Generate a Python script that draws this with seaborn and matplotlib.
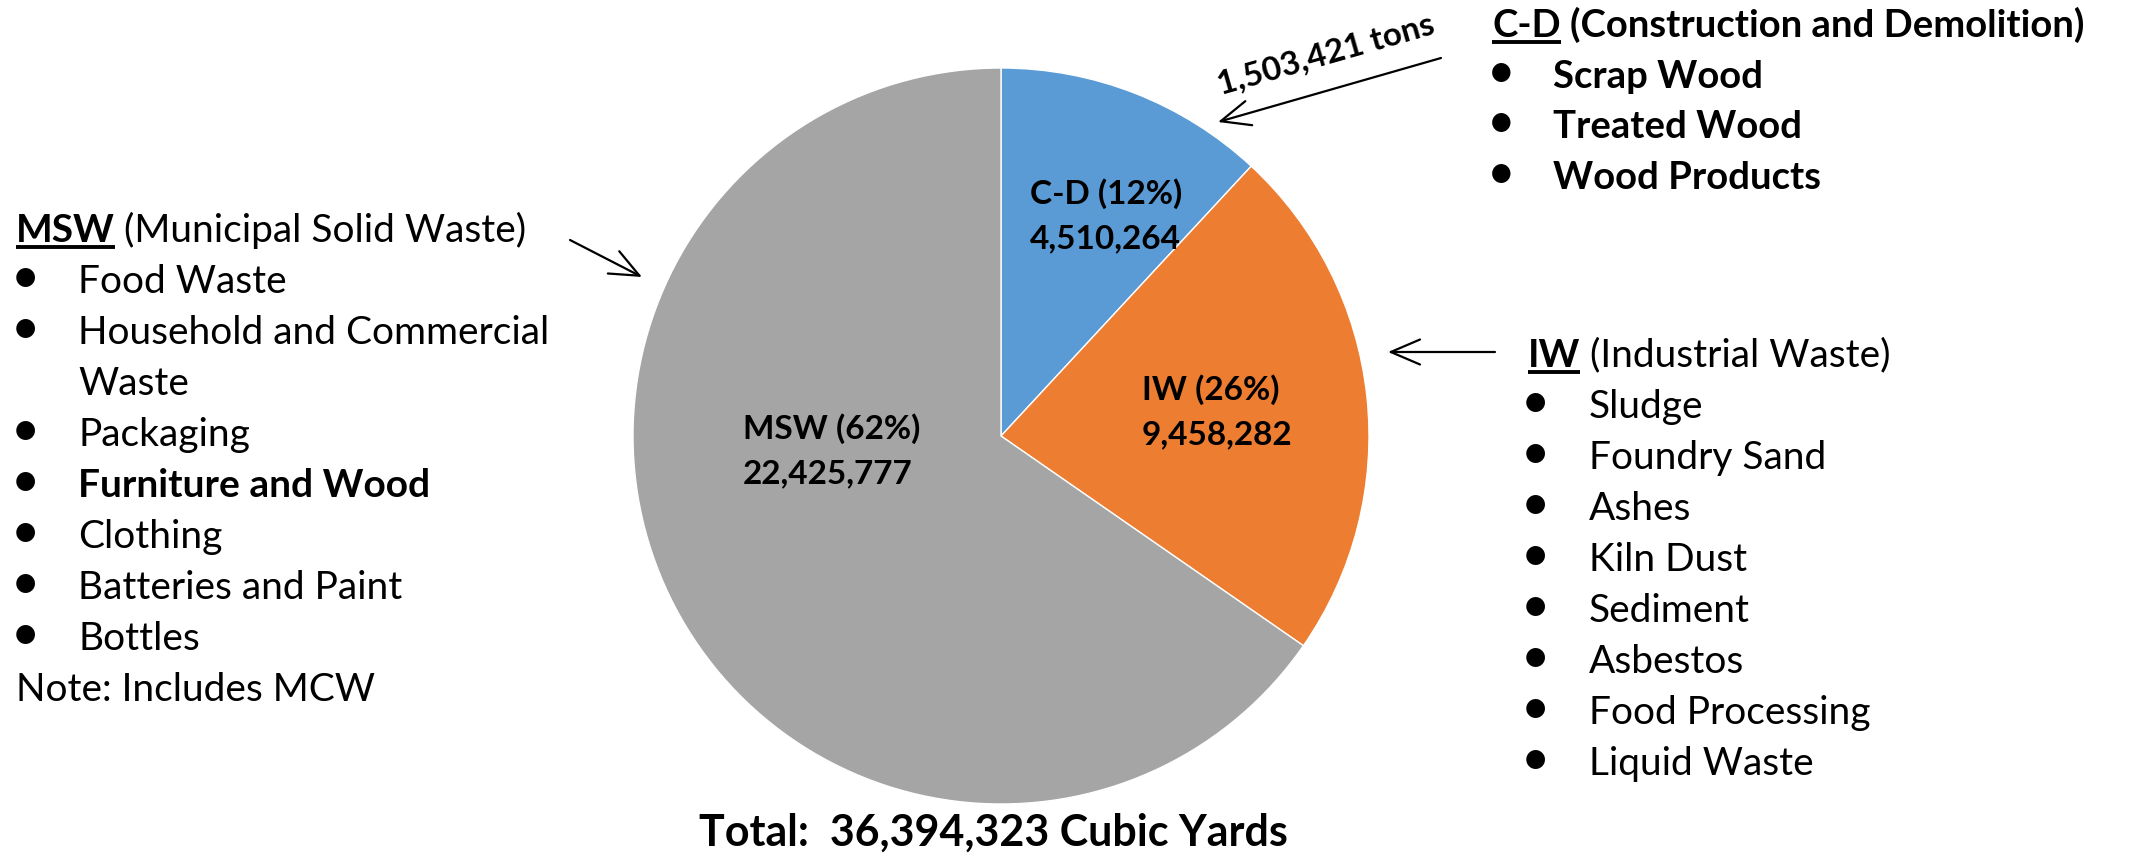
import matplotlib.pyplot as plt
import seaborn as sns

# waste streams (cubic yards) as labelled
segment_names = ["C-D", "IW", "MSW"]
segment_values = [4510264, 9458282, 22425777]
# wedge sizes as drawn in the picture (% of circle), they differ from the labels
wedge_shares = [11.9, 22.75, 65.35]
segment_colors = ["#5B9BD5", "#ED7D31", "#A5A5A5"]
cd_tons = 1503421

msw_title = ("MSW", "(Municipal Solid Waste)")
msw_items = ["Food Waste", "Household and Commercial", None, "Packaging",
             "Furniture and Wood", "Clothing", "Batteries and Paint", "Bottles"]
msw_bold = ["Furniture and Wood"]
msw_note = "Note: Includes MCW"

iw_title = ("IW", "(Industrial Waste)")
iw_items = ["Sludge", "Foundry Sand", "Ashes", "Kiln Dust", "Sediment",
            "Asbestos", "Food Processing", "Liquid Waste"]

cd_title = ("C-D", "(Construction and Demolition)")
cd_items = ["Scrap Wood", "Treated Wood", "Wood Products"]

W, H = 2131, 856

sns.set_theme(style="white")
plt.rcParams["font.family"] = ["Lato", "DejaVu Sans"]
plt.rcParams["text.color"] = "black"


def Y(y):
    # pixel rows from the top -> data y
    return H - y


fig = plt.figure(figsize=(W / 100, H / 100), dpi=100)
ax = fig.add_axes([0, 0, 1, 1])
palette = sns.color_palette(segment_colors)
ax.pie(wedge_shares, colors=palette, startangle=90, counterclock=False,
       center=(1001, Y(436)), radius=368, frame=True,
       wedgeprops={"edgecolor": "white", "linewidth": 1.0})
ax.set_xlim(0, W)
ax.set_ylim(0, H)
ax.set_aspect("equal")
ax.axis("off")
fig.canvas.draw()
renderer = fig.canvas.get_renderer()


def header(x, base, key, rest, size, rest_weight="normal"):
    t = ax.text(x, Y(base), key, fontsize=size, fontweight="bold", va="baseline")
    bb = t.get_window_extent(renderer)
    ax.plot([bb.x0, bb.x1], [Y(base) - 5, Y(base) - 5], color="black", lw=2.8,
            solid_capstyle="butt")
    ax.text(bb.x1 + size * 0.33, Y(base), rest, fontsize=size,
            fontweight=rest_weight, va="baseline")


def bullets(xb, xt, base0, step, items, size, bold=(), all_bold=False):
    for i, item in enumerate(items):
        if item is None:
            continue
        yb = Y(base0 + i * step)
        w = "bold" if (all_bold or item in bold) else "normal"
        ax.text(xb, yb, "\u2022", fontsize=size * 1.3, va="baseline", ha="center")
        ax.text(xt, yb, item, fontsize=size, fontweight=w, va="baseline")


# MSW block (left)
step = 51.1
header(16, 241.5, *msw_title, size=28)
bullets(25, 78, 241.5 + step, step, msw_items, 28, bold=msw_bold)
ax.text(78, Y(241.5 + 3 * step), "Waste", fontsize=28, va="baseline")
ax.text(16, Y(241.5 + 9 * step), msw_note, fontsize=28, va="baseline")

# IW block (right)
header(1528, 366.5, *iw_title, size=28)
bullets(1535, 1589, 366.5 + step, step, iw_items, 28)

# C-D block (top right)
header(1492, 37, *cd_title, size=27.5, rest_weight="bold")
bullets(1501, 1553, 37 + 50.7, 50.7, cd_items, 27.5, all_bold=True)

# wedge labels
total = sum(segment_values)
label_pos = {"C-D": (1030, 203.5), "IW": (1142, 399.5), "MSW": (743, 438.5)}
for name, val in zip(segment_names, segment_values):
    x, b = label_pos[name]
    pct = round(100 * val / total)
    ax.text(x, Y(b), f"{name} ({pct}%)", fontsize=24, fontweight="bold", va="baseline")
    ax.text(x, Y(b + 45), f"{val:,}", fontsize=24, fontweight="bold", va="baseline")

# arrows
arrow = dict(arrowstyle="->,head_length=0.7,head_width=0.3", color="black",
             lw=1.6, mutation_scale=30, shrinkA=0, shrinkB=0)
ax.annotate("", xy=(642, Y(277)), xytext=(570, Y(240)), arrowprops=arrow)
ax.annotate("", xy=(1388, Y(352)), xytext=(1495, Y(352)), arrowprops=arrow)
ax.annotate("", xy=(1218, Y(122)), xytext=(1441, Y(58)), arrowprops=arrow)

ax.text(1326, Y(54), f"{cd_tons:,} tons", fontsize=24, fontweight="bold",
        rotation=16, rotation_mode="anchor", ha="center", va="center")

ax.text(993, Y(846), f"Total:  {total:,} Cubic Yards", fontsize=31,
        fontweight="bold", ha="center", va="baseline")

fig.savefig("out.png", dpi=100, facecolor="white")
plt.close(fig)
